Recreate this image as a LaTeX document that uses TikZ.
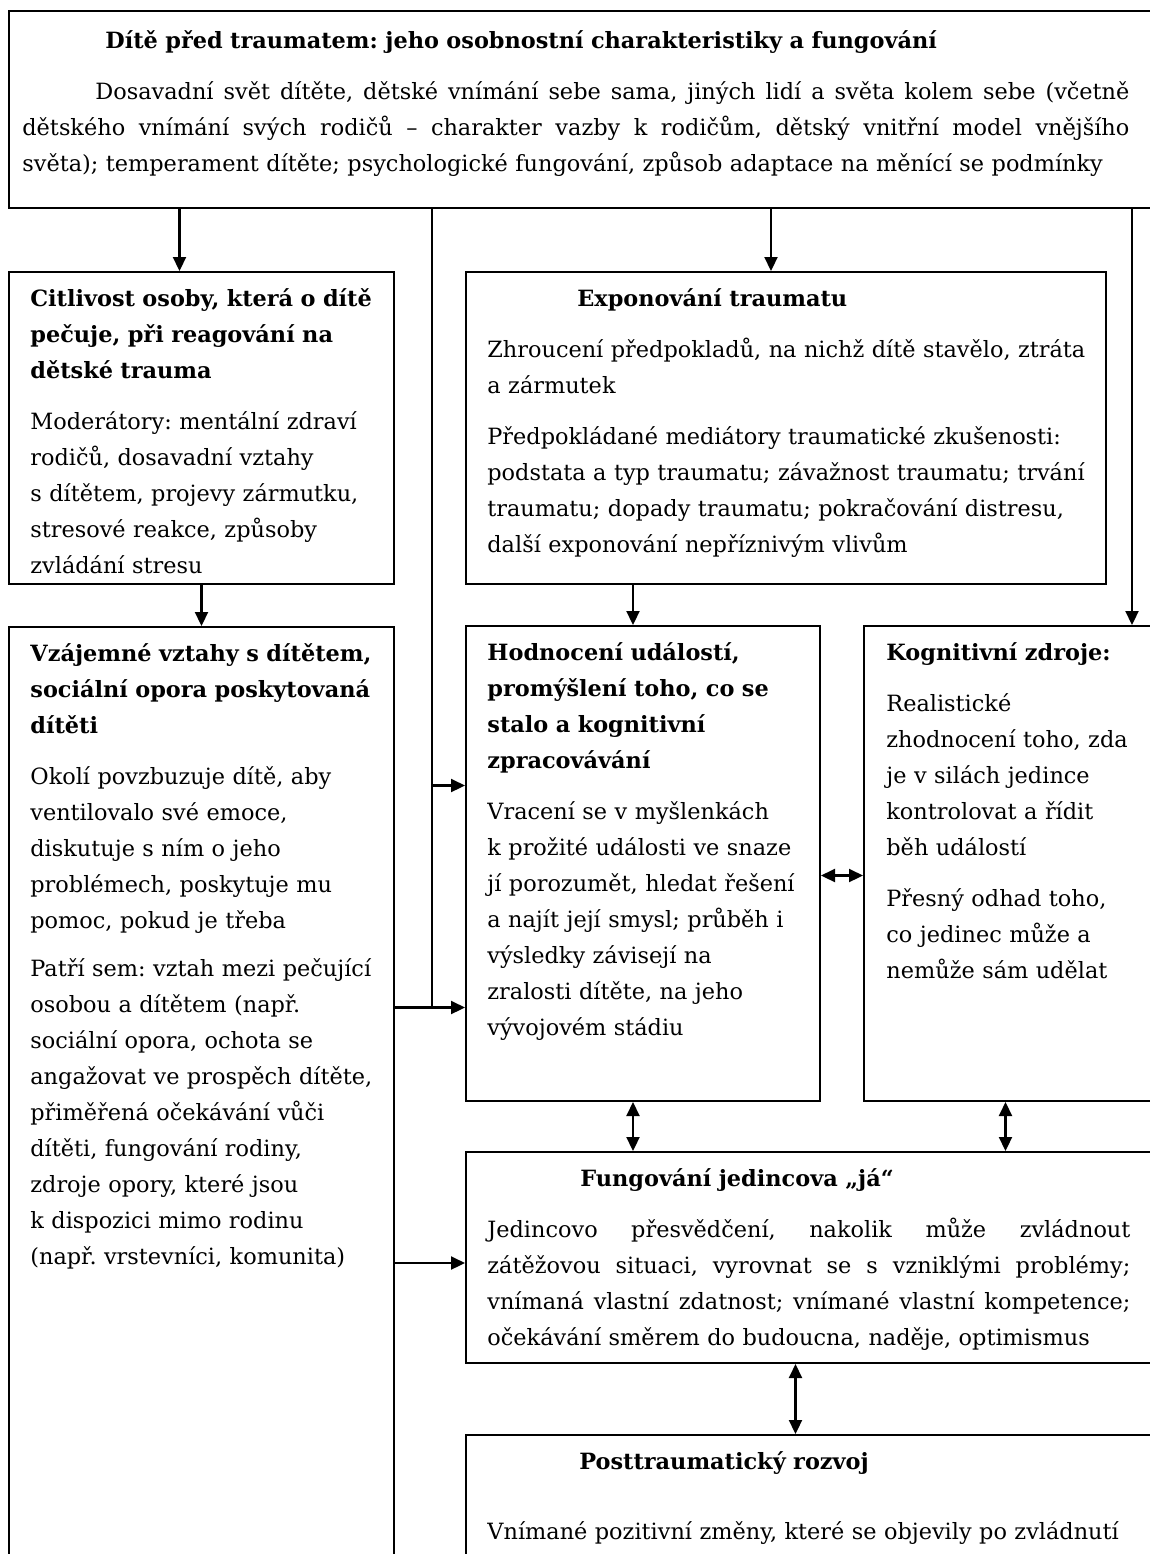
\documentclass[tikz,border=0pt]{standalone}
\usepackage{fontspec}
\setmainfont{DejaVu Serif}
\usetikzlibrary{arrows.meta,positioning}
\newcommand\bodyfont{\fontsize{11.2}{18}\selectfont\frenchspacing}
% one justified line of a given width
\newcommand\jline[2]{\leavevmode\hbox to #1{\spaceskip=0.3em plus 1fil\relax #2}}
\tikzset{
  box/.style={draw,line width=1pt,inner sep=0pt,anchor=north west},
  txt/.style={anchor=north west,inner sep=0pt,align=left,font=\bodyfont,
              execute at begin node=\strut},
  arr/.style={-{Triangle[length=7pt,width=6.5pt]},line width=1.1pt},
  dbl/.style={{Triangle[length=7pt,width=6.5pt]}-{Triangle[length=7pt,width=6.5pt]},
              line width=1.1pt},
  link/.style={line width=1.1pt},
}
\begin{document}
\begin{tikzpicture}[x=0.5pt,y=-0.5pt]
\useasboundingbox (0,0) rectangle (1150,1554);
\clip (0,0) rectangle (1150,1554);

% boxes
\node[box,minimum width=576pt,minimum height=98.5pt] (top) at (8,10) {};
\node[box,minimum width=192.5pt,minimum height=156pt] (citl) at (8,271) {};
\node[box,minimum width=320pt,minimum height=156pt] (expon) at (465,271) {};
\node[box,minimum width=192.5pt,minimum height=488pt,
      below=20.5pt of citl.south west,anchor=north west] (vzaj) {};
\node[box,minimum width=177pt,minimum height=237.5pt,
      below=20pt of expon.south west,anchor=north west] (hodn) {};
\node[box,minimum width=149.5pt,minimum height=237.5pt,
      right=21pt of hodn.north east,anchor=north west] (kogn) {};
\node[box,minimum width=347.5pt,minimum height=105.5pt,
      below=24.5pt of hodn.south west,anchor=north west] (fung) {};
\node[box,minimum width=347.5pt,minimum height=100pt,
      below=35pt of fung.south west,anchor=north west] (post) {};

% texts
\node[txt,text width=553.5pt] (topt) at ([xshift=7pt,yshift=-6.5pt]top.north west) {%
  \hspace*{41.5pt}{\bfseries Dítě před traumatem: jeho osobnostní charakteristiky a fungování}\\[7.5pt]
  \hspace*{36.5pt}\jline{517pt}{Dosavadní svět dítěte, dětské vnímání sebe sama, jiných lidí a světa kolem sebe (včetně}\\
  \jline{553.5pt}{dětského vnímání svých rodičů – charakter vazby k~rodičům, dětský vnitřní model vnějšího}\\
  světa); temperament dítěte; psychologické fungování, způsob adaptace na měnící se podmínky};
\node[txt,text width=185pt] (citlt) at ([xshift=11pt,yshift=-5pt]citl.north west) {%
  {\bfseries Citlivost osoby, která o dítě\\ pečuje, při reagování na\\ dětské trauma}\\[7.5pt]
  Moderátory: mentální zdraví\\ rodičů, dosavadní vztahy\\ s~dítětem, projevy zármutku,\\
  stresové reakce, způsoby\\ zvládání stresu};
\node[txt,text width=312pt] (expont) at ([xshift=11pt,yshift=-5pt]expon.north west) {%
  \hspace*{45pt}{\bfseries Exponování traumatu}\\[7.5pt]
  Zhroucení předpokladů, na nichž dítě stavělo, ztráta\\ a zármutek\\[7.5pt]
  Předpokládané mediátory traumatické zkušenosti:\\ podstata a typ traumatu; závažnost traumatu; trvání\\
  traumatu; dopady traumatu; pokračování distresu,\\ další exponování nepříznivým vlivům};
\node[txt,text width=185pt] (vzajt) at ([xshift=11pt,yshift=-5pt]vzaj.north west) {%
  {\bfseries Vzájemné vztahy s~dítětem,\\ sociální opora poskytovaná\\ dítěti}\\[7.5pt]
  Okolí povzbuzuje dítě, aby\\ ventilovalo své emoce,\\ diskutuje s~ním o~jeho\\
  problémech, poskytuje mu\\ pomoc, pokud je třeba\\[6pt]
  Patří sem: vztah mezi pečující\\ osobou a dítětem (např.\\ sociální opora, ochota se\\
  angažovat ve prospěch dítěte,\\ přiměřená očekávání vůči\\ dítěti, fungování rodiny,\\
  zdroje opory, které jsou\\ k~dispozici mimo rodinu\\ (např. vrstevníci, komunita)};
\node[txt,text width=170pt] (hodnt) at ([xshift=11pt,yshift=-5pt]hodn.north west) {%
  {\bfseries Hodnocení událostí,\\ promýšlení toho, co se\\ stalo a kognitivní\\ zpracovávání}\\[7.5pt]
  Vracení se v~myšlenkách\\ k~prožité události ve snaze\\ jí porozumět, hledat řešení\\
  a najít její smysl; průběh i\\ výsledky závisejí na\\ zralosti dítěte, na jeho\\ vývojovém stádiu};
\node[txt,text width=135pt] (kognt) at ([xshift=11.5pt,yshift=-5pt]kogn.north west) {%
  {\bfseries Kognitivní zdroje:}\\[7.5pt]
  Realistické\\ zhodnocení toho, zda\\ je v~silách jedince\\ kontrolovat a řídit\\ běh událostí\\[7.5pt]
  Přesný odhad toho,\\ co jedinec může a\\ nemůže sám udělat};
\node[txt,text width=321.5pt] (fungt) at ([xshift=11pt,yshift=-5pt]fung.north west) {%
  \hspace*{46.5pt}{\bfseries Fungování jedincova „já“}\\[7.5pt]
  \jline{321.5pt}{Jedincovo přesvědčení, nakolik může zvládnout}\\
  \jline{321.5pt}{zátěžovou situaci, vyrovnat se s~vzniklými problémy;}\\
  \jline{321.5pt}{vnímaná vlastní zdatnost; vnímané vlastní kompetence;}\\
  očekávání směrem do budoucna, naděje, optimismus};
\node[txt,text width=330pt] (postt) at ([xshift=11pt,yshift=-5pt]post.north west) {%
  \hspace*{46pt}{\bfseries Posttraumatický rozvoj}\\[17pt]
  Vnímané pozitivní změny, které se objevily po zvládnutí};

% connectors
\coordinate (trunk) at ([xshift=18.5pt]vzaj.east |- top.south);
\coordinate (inA) at ([yshift=39pt]hodn.west);
\coordinate (inB) at ([yshift=-72pt]hodn.west);
\coordinate (outC) at ([yshift=-74pt]vzaj.east);
\draw[arr] ([xshift=-11pt]citl.north |- top.south) -- ([xshift=-11pt]citl.north);
\draw[arr] ([xshift=-7.5pt]expon.north |- top.south) -- ([xshift=-7.5pt]expon.north);
\draw[arr] ([xshift=-16pt]kogn.north east |- top.south) -- ([xshift=-16pt]kogn.north east);
\draw[arr] (citl.south) -- (citl.south |- vzaj.north);
\draw[arr] ([xshift=-5pt]hodn.north |- expon.south) -- ([xshift=-5pt]hodn.north);
\draw[link] (trunk) -- (trunk |- inB);
\draw[arr] (trunk |- inA) -- (inA);
\draw[arr] (inB -| vzaj.east) -- (inB);
\draw[arr] (outC) -- (outC -| fung.west);
\draw[dbl] ([yshift=-6pt]hodn.east) -- ([yshift=-6pt]hodn.east -| kogn.west);
\draw[dbl] ([xshift=-5pt]hodn.south) -- ([xshift=-5pt]hodn.south |- fung.north);
\draw[dbl] ([xshift=-4pt]kogn.south) -- ([xshift=-4pt]kogn.south |- fung.north);
\draw[dbl] ([xshift=-9pt]fung.south) -- ([xshift=-9pt]fung.south |- post.north);
\end{tikzpicture}
\end{document}
